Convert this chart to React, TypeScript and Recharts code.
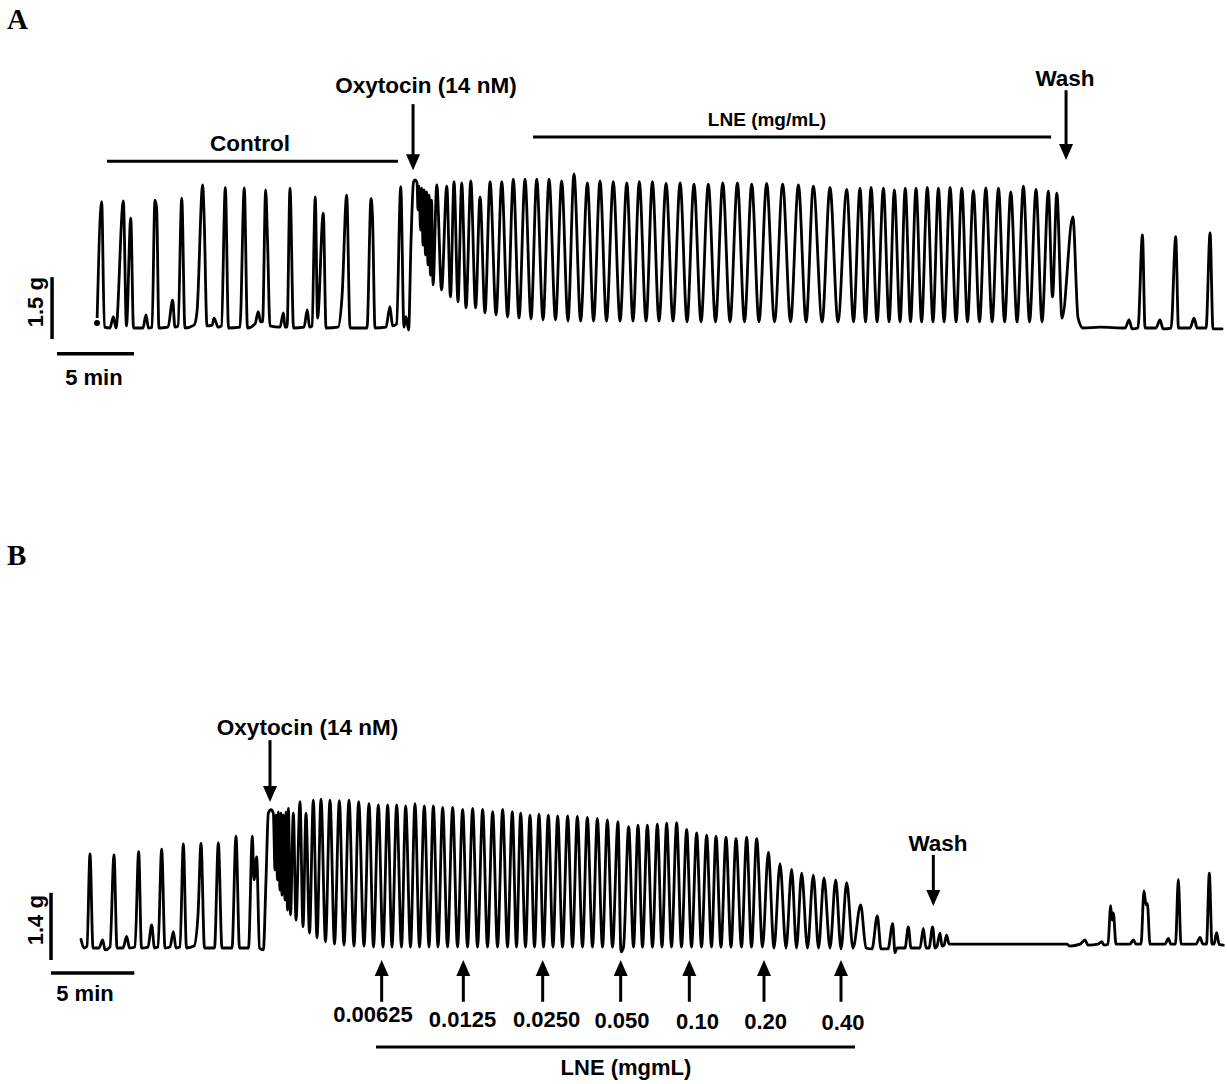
import React from "react";
import { LineChart, Line, XAxis, YAxis, ReferenceLine, ReferenceDot } from "recharts";

type Pt = [number, number]; // [time (min), force (g)]

// ---------- Panel A trace (time in min, force in g) ----------
const aControl: Pt[] = [
  [2.60,0.12],[2.90,3.08],[3.08,0.02],[3.44,0],[3.66,0.28],[3.83,0],[4.31,3.10],[4.51,0.05],[4.79,2.68],[4.97,0],
  [5.58,0],[5.78,0.32],[5.94,0],[6.17,0.02],[6.36,3.12],[6.47,2.93],[6.62,0],[7.21,0.02],[7.51,0.68],[7.66,0.02],
  [7.86,0.05],[8.10,3.17],[8.31,0],[8.90,0.07],[9.09,0.39],[9.46,3.49],[9.55,2.76],[9.74,0.05],[10.07,0.07],[10.20,0.24],
  [10.46,0.02],[10.68,0.05],[10.93,3.43],[11.14,0],[11.88,0.02],[12.16,3.42],[12.37,0],[12.86,0.10],[13.07,0.40],[13.22,0.15],
  [13.35,0.15],[13.55,3.37],[13.67,2.15],[13.83,0.05],[14.48,0.02],[14.70,0.37],[14.81,0.02],[14.94,0.02],[15.13,3.41],[15.36,0],
  [16.04,0.02],[16.25,0.44],[16.40,0.02],[16.56,0.05],[16.77,3.20],[16.92,0.24],[17.29,2.80],[17.47,0],[18.25,0.02],[18.51,0.78],
  [18.81,3.24],[19.03,0],[20.13,0],[20.39,3.16],[20.49,2.68],[20.65,0],[21.36,0.02],[21.62,0.52],[21.79,0.05],[22.05,0.10],
  [22.32,3.45],[22.53,0.02],[22.66,0.28],[22.83,-0.05],
];
const aOxytocin: Pt[] = [
  [22.99,2.15],[23.15,3.56],[23.25,3.61],[23.38,3.54],[23.44,2.88],[23.51,3.46],[23.61,2.39],[23.67,3.41],[23.77,2.02],[23.83,3.37],
  [23.93,1.78],[24.00,3.32],[24.09,1.54],[24.16,3.24],[24.25,1.29],[24.32,3.12],[24.42,1.05],[24.66,3.49],[24.97,0.93],[25.31,3.46],
  [25.55,0.76],[25.78,3.57],[26.04,0.64],[26.28,3.54],[26.56,0.49],[26.87,3.59],[27.18,0.49],[27.47,3.20],[27.79,0.37],[28.12,3.57],
  [28.51,0.32],[28.88,3.57],[29.26,0.27],[29.63,3.63],[30.00,0.24],[30.39,3.63],[30.78,0.22],[31.15,3.63],[31.56,0.20],[31.95,3.63],
  [32.37,0.20],[32.77,3.59],[33.18,0.17],[33.57,3.76],[34.00,0.17],[34.44,3.54],[34.84,0.17],[35.26,3.59],[35.68,0.17],[36.12,3.57],
  [36.56,0.17],[37.00,3.54],[37.40,0.17],[37.81,3.57],[38.25,0.17],[38.66,3.57],[39.09,0.17],[39.55,3.53],[40.00,0.17],[40.46,3.54],
  [40.91,0.15],[41.36,3.51],[41.82,0.15],[42.29,3.51],[42.76,0.15],[43.23,3.54],[43.70,0.15],[44.18,3.54],[44.64,0.15],[45.11,3.51],
  [45.58,0.15],[46.08,3.53],[46.59,0.15],[47.12,3.51],[47.63,0.15],[48.14,3.49],[48.64,0.15],[49.11,3.46],[49.68,0.15],[50.19,3.43],
  [50.71,0.15],[51.28,3.38],[51.72,0.15],[52.14,3.41],[52.50,0.15],[52.86,3.43],[53.25,0.15],[53.66,3.41],[54.03,0.15],[54.37,3.37],
  [54.74,0.15],[55.08,3.41],[55.42,0.15],[55.78,3.41],[56.14,0.15],[56.51,3.43],[56.88,0.15],[57.23,3.41],[57.60,0.15],[57.99,3.43],
  [58.38,0.15],[58.75,3.41],[59.12,0.15],[59.50,3.35],[59.90,0.15],[60.31,3.42],[60.72,0.15],[61.13,3.41],[61.53,0.15],[61.93,3.32],
  [62.34,0.15],[62.75,3.46],[63.15,0.15],[63.57,3.38],[63.96,0.15],[64.37,3.34],[64.64,0.76],[64.92,3.29],[65.26,0.24],[65.96,2.71],
  [66.30,0.24],[66.62,0],
];
const aWash: Pt[] = [
  [67.73,0.02],[69.36,0],[69.61,0.20],[69.81,-0.02],[70.19,0],[70.48,2.27],[70.65,0],[71.36,0],[71.62,0.20],[71.82,-0.02],
  [72.34,0],[72.64,2.23],[72.82,0],[73.57,0],[73.83,0.24],[74.03,0],[74.61,0],[74.87,2.32],[75.06,-0.02],[75.65,-0.02],
];

// ---------- Panel B trace ----------
const bControl: Pt[] = [
  [1.80,0.18],[1.98,0],[2.16,0.04],[2.34,1.96],[2.52,0],[2.88,0],[3.10,0.17],[3.24,-0.04],[3.54,0.02],[3.78,1.94],
  [3.96,0],[4.32,0],[4.54,0.24],[4.71,0],[5.04,0.02],[5.26,2.01],[5.43,0],[5.82,0.02],[6.04,0.48],[6.21,0],
  [6.42,0.02],[6.64,2.06],[6.84,0],[7.14,0.02],[7.34,0.34],[7.50,0],[7.74,0.02],[7.94,2.17],[8.13,0],[8.58,0.04],
  [8.82,0.69],[9.00,2.18],[9.21,0],[9.81,0],[10.04,2.19],[10.26,0],[10.86,0],[11.10,2.33],[11.31,0],[11.85,0],
  [12.08,2.33],[12.18,1.42],[12.34,1.90],[12.51,0],[12.74,-0.04],
];
const bOxytocin: Pt[] = [
  [12.90,1.42],[13.04,2.81],[13.20,2.88],[13.34,2.81],[13.44,1.63],[13.50,2.77],[13.59,1.42],[13.64,2.83],[13.74,1.21],[13.80,2.81],
  [13.86,1.10],[13.94,2.77],[14.04,1.00],[14.10,2.83],[14.19,0.79],[14.24,2.91],[14.37,0.69],[14.54,2.81],[14.70,0.58],[14.94,3.05],
  [15.12,0.44],[15.30,2.81],[15.51,0.31],[15.74,3.08],[15.96,0.21],[16.20,3.10],[16.47,0.13],[16.74,3.08],[17.01,0.08],[17.30,3.07],
  [17.58,0.06],[17.88,3.08],[18.18,0.04],[18.46,3.05],[18.78,0.04],[19.08,3.01],[19.35,0.02],[19.64,2.98],[19.92,0.02],[20.20,2.98],
  [20.46,0.02],[20.74,2.98],[21.03,0.02],[21.28,2.96],[21.57,0.02],[21.84,3.01],[22.11,0.02],[22.40,2.96],[22.68,0.02],[22.94,2.96],
  [23.22,0.02],[23.50,2.93],[23.79,0.02],[24.10,2.93],[24.39,0.02],[24.70,2.89],[24.99,0.02],[25.30,2.91],[25.59,0.02],[25.90,2.89],
  [26.19,0.02],[26.50,2.84],[26.79,0.02],[27.10,2.89],[27.39,0.02],[27.68,2.84],[27.93,0.02],[28.18,2.81],[28.47,0.02],[28.74,2.77],
  [29.01,0.02],[29.28,2.79],[29.55,0.02],[29.84,2.77],[30.12,0.02],[30.40,2.75],[30.69,0.02],[31.00,2.75],[31.29,0.02],[31.58,2.74],
  [31.89,0.02],[32.18,2.72],[32.49,0.02],[32.78,2.70],[33.09,0.02],[33.38,2.67],[33.69,0.02],[34.02,2.63],[34.20,-0.08],[34.35,0.02],
  [34.66,2.53],[34.95,0.02],[35.22,2.56],[35.49,0.02],[35.78,2.56],[36.09,0.02],[36.38,2.58],[36.66,0.02],[36.94,2.60],[37.23,0.02],
  [37.54,2.61],[37.83,0.02],[38.14,2.47],[38.43,0.02],[38.74,2.40],[39.03,0.02],[39.34,2.35],[39.63,0.02],[39.90,2.33],[40.20,0.02],
  [40.50,2.31],[40.80,0.02],[41.10,2.28],[41.43,0.02],[41.74,2.31],[42.03,0.02],[42.34,2.28],[42.69,0.02],[43.04,1.99],[43.38,0],
  [43.74,1.76],[44.10,0],[44.44,1.64],[44.73,0],[45.04,1.56],[45.39,0],[45.74,1.52],[46.05,0],[46.38,1.46],[46.74,0],
  [47.08,1.42],[47.40,-0.02],[47.74,1.36],[48.12,0],[48.58,0.90],[48.90,0],[49.26,-0.02],[49.58,0.67],[49.80,-0.02],[50.22,-0.02],
  [50.50,0.51],[50.64,-0.10],[50.76,0],[51.24,0],[51.44,0.44],[51.60,0],[52.14,0],[52.34,0.41],[52.50,0],[52.68,0],
  [52.90,0.44],[53.04,0],[53.16,0.04],[53.34,0.31],[53.46,0.04],[53.58,0.06],[53.74,0.27],[53.88,0.08],[54.34,0.08],
];
const bWash: Pt[] = [
  [60.94,0.08],[61.14,0.04],[61.74,0.08],[62.04,0.17],[62.22,0.06],[62.82,0.08],[63.04,0.13],[63.18,0.06],[63.42,0.08],[63.58,0.88],
  [63.66,0.58],[63.74,0.73],[63.90,0.08],[64.74,0.08],[64.94,0.17],[65.10,0.08],[65.40,0.08],[65.58,1.19],[65.70,0.90],[65.78,0.93],
  [65.94,0.08],[66.84,0.08],[67.04,0.20],[67.20,0.08],[67.47,0.08],[67.64,1.43],[67.80,0.08],[68.70,0.08],[68.94,0.22],[69.12,0.08],
  [69.33,0.08],[69.50,1.56],[69.66,0.08],[69.78,0.08],[69.94,0.32],[70.08,0.08],[70.34,0.06],
];

// ---------- Panel B LNE doses ----------
const doseLabels = ["0.00625", "0.0125", "0.0250", "0.050", "0.10", "0.20", "0.40"];
const doseTimes = [19.84, 24.74, 29.50, 34.18, 38.30, 42.78, 47.40];
const doseLabelTimes = [19.32, 24.69, 29.74, 34.26, 38.79, 42.88, 47.52];
const doseLabelForce = [-1.54, -1.64, -1.64, -1.66, -1.68, -1.69, -1.71];

const toRows = (...segs: Pt[][]) => segs.flat().map(([t, g]) => ({ t, g }));
const rowsA = toRows(aControl, aOxytocin, aWash);
const rowsB = toRows(bControl, bOxytocin, bWash);

const FONT = '"Liberation Sans", Arial, Helvetica, sans-serif';
const INK = "#000";

const ArrowShape = (p: any) => {
  const { x1, y1, x2, y2 } = p;
  const dir = Math.sign(y2 - y1) || 1;
  const hl = 16;
  const hw = 7;
  return (
    <g>
      <line x1={x1} y1={y1} x2={x2} y2={y2 - dir * (hl - 1)} stroke={INK} strokeWidth={3} />
      <polygon points={`${x2},${y2} ${x2 - hw},${y2 - dir * hl} ${x2 + hw},${y2 - dir * hl}`} fill={INK} />
    </g>
  );
};

const label = (key: string, x: number, y: number, text: string, size: number, rotate = false) => (
  <ReferenceDot
    key={key}
    x={x}
    y={y}
    r={0}
    shape={(p: any) => (
      <text
        x={p.cx}
        y={p.cy}
        textAnchor="middle"
        fontFamily={FONT}
        fontWeight="bold"
        fontSize={size}
        fill={INK}
        transform={rotate ? `rotate(-90 ${p.cx} ${p.cy})` : undefined}
      >
        {text}
      </text>
    )}
  />
);

const bar = (key: string, x1: number, y1: number, x2: number, y2: number, w = 3.5) => (
  <ReferenceLine key={key} segment={[{ x: x1, y: y1 }, { x: x2, y: y2 }]} stroke={INK} strokeWidth={w} />
);

const arrow = (key: string, x: number, yFrom: number, yTip: number) => (
  <ReferenceLine key={key} segment={[{ x, y: yFrom }, { x, y: yTip }]} shape={ArrowShape} />
);

export default function App() {
  return (
    <div style={{ position: "absolute", left: 0, top: 0, width: 1227, height: 1084, background: "#fff" }}>
      <div style={{ position: "absolute", left: 0, top: 0 }}>
        <LineChart width={1227} height={540} data={rowsA} margin={{ top: 0, right: 0, bottom: 0, left: 0 }}>
          <XAxis dataKey="t" type="number" domain={[-3.70, 75.97]} hide allowDataOverflow />
          <YAxis type="number" domain={[-5.17, 8.0]} hide allowDataOverflow />
          <Line type="monotone" dataKey="g" stroke={INK} strokeWidth={2.8} dot={false} strokeLinejoin="round" strokeLinecap="round" isAnimationActive={false} />
          {label("ctl", 12.53, 4.32, "Control", 22.5)}
          {bar("ctlbar", 3.25, 4.07, 22.14, 4.07, 3)}
          {label("oxyA", 23.96, 5.73, "Oxytocin (14 nM)", 22.5)}
          {arrow("oxyArrA", 23.12, 5.46, 3.85)}
          {label("lneA", 46.10, 4.93, "LNE (mg/mL)", 19)}
          {bar("lneBarA", 30.91, 4.66, 64.55, 4.66, 3)}
          {label("washA", 65.45, 5.90, "Wash", 22.5)}
          {arrow("washArrA", 65.52, 5.80, 4.10)}
          {bar("gBarA", -0.32, -0.27, -0.32, 1.24)}
          {label("gA", -0.91, 0.63, "1.5 g", 22, true)}
          {bar("minBarA", 0, -0.63, 5, -0.63)}
          {label("minA", 2.40, -1.39, "5 min", 22)}
        </LineChart>
      </div>
      <div style={{ position: "absolute", left: 0, top: 540 }}>
        <LineChart width={1227} height={544} data={rowsB} margin={{ top: 0, right: 0, bottom: 0, left: 0 }}>
          <XAxis dataKey="t" type="number" domain={[-3.06, 70.56]} hide allowDataOverflow />
          <YAxis type="number" domain={[-2.833, 8.5]} hide allowDataOverflow />
          <Line type="monotone" dataKey="g" stroke={INK} strokeWidth={2.8} dot={false} strokeLinejoin="round" strokeLinecap="round" isAnimationActive={false} />
          {label("oxyB", 15.39, 4.44, "Oxytocin (14 nM)", 22.5)}
          {arrow("oxyArrB", 13.14, 4.33, 3.04)}
          {label("washB", 53.22, 2.02, "Wash", 22.5)}
          {arrow("washArrB", 52.94, 1.94, 0.875)}
          {doseTimes.map((t, i) => arrow(`dose${i}`, t, -1.12, -0.25))}
          {doseLabels.map((s, i) => label(`doseL${i}`, doseLabelTimes[i], doseLabelForce[i], s, 22))}
          {bar("lneBarB", 19.5, -2.06, 48.24, -2.06, 3)}
          {label("lneB", 34.5, -2.65, "LNE (mgmL)", 22)}
          {bar("gBarB", 0, -0.25, 0, 1.15)}
          {label("gB", -0.48, 0.58, "1.4 g", 22, true)}
          {bar("minBarB", 0, -0.52, 5, -0.52)}
          {label("minB", 2.04, -1.10, "5 min", 22)}
        </LineChart>
      </div>
      <svg width={1227} height={1084} style={{ position: "absolute", left: 0, top: 0, pointerEvents: "none" }}>
        <text x={7} y={29} fontFamily='"Liberation Serif", "Times New Roman", serif' fontWeight="bold" fontSize={29} fill={INK}>A</text>
        <text x={7} y={565} fontFamily='"Liberation Serif", "Times New Roman", serif' fontWeight="bold" fontSize={29} fill={INK}>B</text>
      </svg>
    </div>
  );
}
